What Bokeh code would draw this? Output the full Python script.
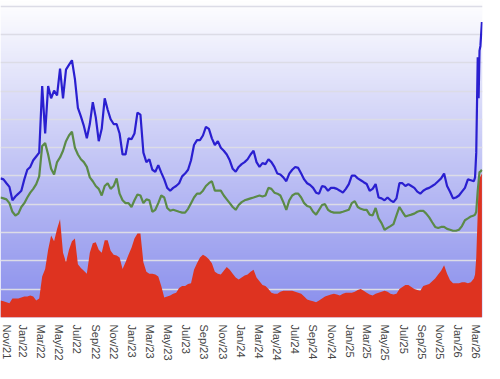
import numpy as np
import pandas as pd
from bokeh.plotting import figure
from bokeh.models import Range1d, FixedTicker, DatetimeTickFormatter, Grid
from bokeh.embed import file_html
from bokeh.resources import INLINE

# ---- data ($/bbl), sampled every 10 days from 2021-10-16, plus the final March 2026 days
start_date = "2021-10-16"
n_regular = 160
tail_dates = ["2026-02-26", "2026-03-02", "2026-03-07", "2026-03-10",
              "2026-03-13", "2026-03-16", "2026-03-21"]

diesel = [
    98.3, 97.6, 94.9, 92.3, 82.8, 85.5, 87.5, 89.6, 97.6, 104.4,
    106.4, 111.1, 113.8, 116.5, 163.6, 130.0, 163.6, 154.9, 160.3, 156.9,
    175.8, 154.9, 175.1, 178.5, 181.8, 168.4, 148.1, 142.1, 135.4, 126.6,
    136.7, 152.2, 141.4, 124.6, 133.3, 154.9, 146.8, 140.1, 136.7, 136.7,
    130.0, 115.2, 115.2, 126.6, 125.9, 130.0, 144.8, 143.4, 116.5, 109.8,
    111.8, 104.4, 103.0, 107.7, 102.4, 97.6, 91.6, 89.6, 91.6, 92.9,
    94.9, 99.7, 101.7, 104.4, 111.1, 121.9, 125.3, 125.3, 128.6, 134.7,
    133.3, 126.6, 121.9, 124.6, 119.9, 117.8, 115.2, 111.1, 105.1, 103.0,
    106.4, 108.4, 109.8, 111.8, 115.2, 117.8, 109.8, 106.4, 109.1, 108.4,
    111.8, 109.8, 106.4, 101.7, 101.0, 99.0, 96.3, 101.7, 104.4, 106.4,
    105.7, 101.7, 97.6, 94.9, 93.6, 91.6, 88.2, 87.5, 92.9, 92.3,
    89.6, 91.6, 91.6, 90.9, 89.6, 88.2, 90.9, 94.3, 100.3, 100.3,
    98.3, 97.0, 95.6, 94.3, 89.6, 90.9, 94.3, 84.8, 84.2, 82.8,
    84.8, 82.8, 81.5, 84.2, 94.9, 94.9, 92.9, 94.3, 92.9, 91.6,
    88.9, 87.5, 89.6, 90.9, 91.6, 92.9, 94.3, 96.3, 98.3, 101.7,
    92.9, 88.9, 84.2, 84.8, 86.2, 88.9, 91.6, 97.6, 97.0, 96.3,
    99.0, 116.5, 183.8, 154.9, 188.6, 191.9, 208.8,
]

crude = [
    84.8, 84.2, 83.5, 80.8, 74.7, 72.1, 73.4, 78.1, 80.8, 84.8,
    88.2, 90.9, 94.3, 99.7, 121.2, 123.2, 115.2, 105.1, 101.0, 109.8,
    113.1, 117.8, 124.6, 128.6, 131.3, 119.9, 115.2, 111.8, 109.8, 106.4,
    99.0, 96.3, 92.9, 90.9, 86.2, 92.9, 94.9, 90.9, 92.9, 98.3,
    87.5, 82.8, 80.8, 80.8, 78.1, 82.8, 86.9, 86.2, 80.8, 83.5,
    82.8, 74.7, 76.1, 80.8, 86.2, 84.8, 77.4, 75.4, 76.1, 75.4,
    74.7, 74.1, 74.1, 76.8, 80.8, 84.8, 87.5, 87.5, 89.6, 92.9,
    94.9, 96.3, 89.6, 89.6, 89.6, 86.2, 83.5, 80.8, 78.1, 76.1,
    79.5, 81.5, 82.8, 83.5, 84.2, 84.8, 85.5, 86.2, 85.5, 86.2,
    91.6, 90.9, 88.2, 87.5, 86.2, 81.5, 76.1, 82.8, 86.2, 87.5,
    87.5, 84.8, 80.8, 78.8, 78.1, 74.7, 72.7, 76.1, 79.5, 80.1,
    76.1, 74.7, 74.1, 74.1, 74.1, 74.7, 75.4, 76.1, 80.8, 82.2,
    78.1, 76.8, 76.1, 76.1, 72.7, 72.1, 77.4, 70.0, 66.7, 62.0,
    63.3, 64.6, 66.0, 72.1, 78.1, 74.7, 71.4, 72.1, 72.7, 73.4,
    74.7, 75.4, 75.4, 73.4, 70.7, 67.3, 64.0, 63.3, 64.0, 64.0,
    62.6, 62.0, 61.3, 61.3, 62.0, 64.6, 68.7, 70.0, 71.4, 72.1,
    72.7, 74.7, 89.6, 96.3, 103.0, 103.0, 104.4,
]

spread = [
    12.1, 11.4, 10.8, 10.1, 13.5, 13.5, 13.5, 14.1, 14.8, 14.8,
    15.5, 14.8, 12.1, 13.5, 29.0, 34.3, 47.8, 57.9, 53.9, 62.6,
    69.4, 45.8, 39.1, 47.8, 53.9, 55.9, 37.7, 35.0, 33.0, 31.0,
    45.8, 52.5, 53.2, 47.8, 45.8, 54.5, 54.5, 47.1, 44.4, 43.8,
    42.4, 34.3, 39.1, 44.4, 49.2, 55.9, 59.3, 59.3, 39.1, 32.3,
    31.0, 31.0, 30.3, 29.0, 22.2, 14.1, 14.8, 15.5, 16.8, 17.5,
    20.9, 22.2, 22.2, 23.6, 24.2, 33.7, 38.4, 42.4, 44.4, 43.1,
    41.1, 38.4, 32.3, 31.0, 30.3, 33.0, 35.7, 33.7, 31.0, 28.3,
    26.9, 28.3, 29.6, 30.3, 32.3, 33.7, 28.3, 25.6, 22.9, 22.2,
    20.2, 17.5, 16.8, 16.8, 18.2, 18.9, 18.9, 18.9, 18.9, 18.2,
    17.5, 16.8, 14.8, 12.8, 12.1, 11.4, 10.8, 12.1, 13.5, 14.8,
    15.5, 16.2, 16.8, 16.2, 15.5, 16.8, 17.5, 17.5, 17.5, 18.2,
    19.5, 20.2, 18.9, 17.5, 16.2, 15.5, 16.8, 17.5, 18.2, 18.9,
    18.2, 16.8, 16.2, 16.8, 20.2, 21.5, 22.9, 22.9, 21.5, 20.2,
    19.5, 18.9, 22.2, 22.9, 23.6, 25.6, 27.6, 30.3, 33.0, 37.0,
    31.0, 26.3, 24.2, 24.2, 24.2, 24.9, 24.9, 24.2, 24.9, 27.6,
    30.3, 42.4, 74.1, 94.9, 98.3, 99.7, 101.7,
]

grid_values = [0, 20, 40, 60, 80, 100, 120, 140, 160, 180, 200, 220]
tick_start, tick_end = "2021-11-01", "2026-03-01"

# ---- build
dates = list(pd.date_range(start_date, periods=n_regular, freq="10D")) + list(pd.to_datetime(tail_dates))
dates = pd.to_datetime(dates)

x0 = pd.Timestamp(start_date).timestamp() * 1000
x1 = pd.Timestamp("2026-03-23").timestamp() * 1000
y_top = 224

p = figure(width=484, height=363, x_axis_type="datetime", y_axis_location=None,
           output_backend="svg", toolbar_location=None,
           x_range=Range1d(x0, x1), y_range=Range1d(0, y_top),
           min_border_left=0, min_border_right=2, min_border_top=0, min_border_bottom=0)
p.outline_line_color = None
p.background_fill_color = "white"
p.border_fill_color = "white"
p.xgrid.visible = False
p.ygrid.visible = False

# gradient background (white at top, blue at bottom)
n = 256
grad = np.zeros((n, 1), dtype=np.uint32)
view = grad.view(dtype=np.uint8).reshape((n, 1, 4))
t = np.linspace(0.0, 1.0, n)[:, None]  # 0 bottom -> 1 top
bottom = np.array([136, 141, 236], dtype=float)
top = np.array([255, 255, 255], dtype=float)
tt = np.clip(t, 0, 1)
col = bottom + (top - bottom) * tt
view[:, 0, 0] = col[:, 0].astype(np.uint8)
view[:, 0, 1] = col[:, 1].astype(np.uint8)
view[:, 0, 2] = col[:, 2].astype(np.uint8)
view[:, 0, 3] = 255
p.image_rgba(image=[grad], x=x0, y=0, dw=x1 - x0, dh=y_top, level="image")

g = Grid(dimension=1, ticker=FixedTicker(ticks=grid_values),
         grid_line_color="#dcdce6", grid_line_width=1.5)
p.add_layout(g, "center")

p.varea(x=dates, y1=0, y2=spread, fill_color="#de3320")
p.line(dates, crude, line_color="#5b8a48", line_width=2.2)
p.line(dates, diesel, line_color="#2a1fd0", line_width=2.2)

tick_ms = [d.timestamp() * 1000 for d in pd.date_range(tick_start, tick_end, freq="2MS")]
ax = p.xaxis[0]
ax.ticker = FixedTicker(ticks=tick_ms)
ax.formatter = DatetimeTickFormatter(years="%b/%y", months="%b/%y", days="%b/%y",
                                     hours="%b/%y", minutes="%b/%y")
ax.major_label_orientation = "vertical"
ax.axis_line_color = None
ax.major_tick_line_color = None
ax.minor_tick_line_color = None
ax.major_tick_out = 0
ax.major_tick_in = 0
ax.major_label_standoff = 7
ax.major_label_text_font = "Liberation Sans"
ax.major_label_text_font_size = "11px"
ax.major_label_text_color = "#444444"

open("out.html", "w").write(file_html(p, INLINE))
